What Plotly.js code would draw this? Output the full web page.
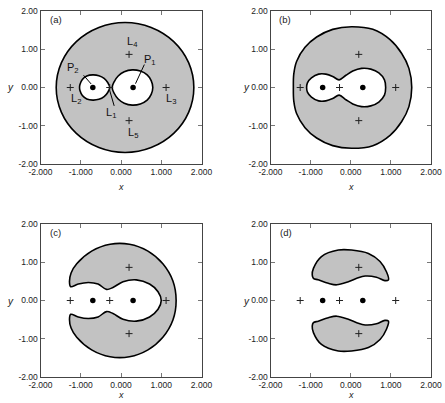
<!DOCTYPE html>
<html><head><meta charset="utf-8">
<script src="https://cdn.plot.ly/plotly-3.0.1.min.js"></script>
<style>html,body{margin:0;padding:0;background:#fff}#chart{width:445px;height:403px}</style>
</head><body><div id="chart"></div>
<script>
// Primaries P1, P2 and Lagrange points L1..L5
const primaryX = [0.3, -0.7];
const primaryY = [0, 0];
const lagrangeX = [-0.28, -1.26, 1.12, 0.2, 0.2];
const lagrangeY = [0, 0, 0, 0.866, -0.866];

// Axis ticks
const tickVals = [-2, -1, 0, 1, 2];
const xTickText = ['-2.000', '-1.000', '0.000', '1.000', '2.000'];
const yTickText = ['-2.00', '-1.00', '0.00', '1.00', '2.00'];

// (a) forbidden region outer boundary and two allowed ovals
const aOuterX = [1.81, 1.68, 1.31, 0.75, 0.10, -0.55, -1.11, -1.48, -1.61, -1.48, -1.11, -0.55, 0.10, 0.75, 1.31, 1.68, 1.81];
const aOuterY = [0, 0.65, 1.20, 1.57, 1.70, 1.57, 1.20, 0.65, 0, -0.65, -1.20, -1.57, -1.70, -1.57, -1.20, -0.65, 0];
const aP2X = [-0.28, -0.33, -0.42, -0.55, -0.70, -0.85, -0.96, -1.02, -1.03, -1.02, -0.96, -0.85, -0.70, -0.55, -0.42, -0.33, -0.28];
const aP2Y = [0, 0.13, 0.24, 0.31, 0.33, 0.30, 0.21, 0.08, 0, -0.08, -0.21, -0.30, -0.33, -0.31, -0.24, -0.13, 0];
const aP1X = [-0.22, -0.17, -0.07, 0.08, 0.28, 0.48, 0.65, 0.75, 0.79, 0.75, 0.65, 0.48, 0.28, 0.08, -0.07, -0.17, -0.22];
const aP1Y = [0, 0.15, 0.30, 0.41, 0.46, 0.43, 0.33, 0.18, 0, -0.18, -0.33, -0.43, -0.46, -0.41, -0.30, -0.15, 0];

// (b) outer boundary and peanut-shaped allowed region
const bOuterX = [1.52, 1.45, 1.27, 0.98, 0.55, 0.02, -0.45, -0.85, -1.14, -1.35, -1.42, -1.43, -1.42, -1.35, -1.14, -0.85, -0.45, 0.02, 0.55, 0.98, 1.27, 1.45, 1.52];
const bOuterY = [0, 0.50, 0.89, 1.25, 1.52, 1.59, 1.52, 1.32, 1.05, 0.68, 0.35, 0, -0.35, -0.68, -1.05, -1.32, -1.52, -1.59, -1.52, -1.25, -0.89, -0.50, 0];
const bInnerX = [0.87, 0.84, 0.70, 0.50, 0.27, 0.05, -0.12, -0.29, -0.45, -0.62, -0.80, -0.98, -1.08, -1.10, -1.08, -0.98, -0.80, -0.62, -0.45, -0.29, -0.12, 0.05, 0.27, 0.50, 0.70, 0.84, 0.87];
const bInnerY = [0, 0.20, 0.38, 0.48, 0.50, 0.43, 0.32, 0.20, 0.29, 0.35, 0.35, 0.25, 0.12, 0, -0.12, -0.25, -0.35, -0.35, -0.29, -0.20, -0.32, -0.43, -0.50, -0.48, -0.38, -0.20, 0];

// (c) horseshoe-shaped forbidden region
const cX = [-1.25, -1.28, -1.24, -1.10, -0.73, -0.27, 0.21, 0.67, 1.04, 1.29, 1.37, 1.29, 1.04, 0.67, 0.21, -0.27, -0.73, -1.10, -1.24, -1.28, -1.25,
            -1.06, -0.81, -0.57, -0.36, -0.20, 0.05, 0.38, 0.71, 0.92, 1.00, 0.92, 0.71, 0.38, 0.05, -0.20, -0.36, -0.57, -0.81, -1.06, -1.25];
const cY = [0.36, 0.50, 0.72, 0.96, 1.29, 1.47, 1.47, 1.29, 0.96, 0.51, 0, -0.51, -0.96, -1.29, -1.47, -1.47, -1.29, -0.96, -0.72, -0.50, -0.36,
            -0.43, -0.47, -0.43, -0.29, -0.34, -0.49, -0.54, -0.43, -0.23, 0, 0.23, 0.43, 0.54, 0.49, 0.34, 0.29, 0.43, 0.47, 0.43, 0.36];

// (d) two crescent-shaped forbidden regions around L4 and L5
const dUpperX = [-0.96, -0.93, -0.73, -0.31, 0.02, 0.44, 0.73, 0.89, 0.94, 0.85, 0.64, 0.36, 0.15, -0.06, -0.35, -0.56, -0.81, -0.93, -0.96];
const dUpperY = [0.67, 0.84, 1.15, 1.32, 1.32, 1.23, 1.02, 0.75, 0.54, 0.52, 0.61, 0.64, 0.58, 0.49, 0.41, 0.45, 0.54, 0.58, 0.67];
const dLowerX = [-0.96, -0.93, -0.73, -0.31, 0.02, 0.44, 0.73, 0.89, 0.94, 0.85, 0.64, 0.36, 0.15, -0.06, -0.35, -0.56, -0.81, -0.93, -0.96];
const dLowerY = [-0.67, -0.84, -1.15, -1.32, -1.32, -1.23, -1.02, -0.75, -0.54, -0.52, -0.61, -0.64, -0.58, -0.49, -0.41, -0.45, -0.54, -0.58, -0.67];

const panelNames = ['(a)', '(b)', '(c)', '(d)'];

const GRAY = '#c2c2c2';
const axesIds = [['x', 'y'], ['x2', 'y2'], ['x3', 'y3'], ['x4', 'y4']];

function region(xs, ys, p, fill) {
  return {type: 'scatter', mode: 'lines', x: xs, y: ys, xaxis: axesIds[p][0], yaxis: axesIds[p][1],
    fill: 'toself', fillcolor: fill, line: {color: '#000', width: 1.6, shape: 'spline', smoothing: 1},
    hoverinfo: 'skip', showlegend: false};
}
function points(p) {
  return [
    {type: 'scatter', mode: 'markers', x: lagrangeX, y: lagrangeY, xaxis: axesIds[p][0], yaxis: axesIds[p][1],
      marker: {symbol: 'cross-thin', size: 5, line: {width: 1, color: '#222'}}, hoverinfo: 'skip', showlegend: false},
    {type: 'scatter', mode: 'markers', x: primaryX, y: primaryY, xaxis: axesIds[p][0], yaxis: axesIds[p][1],
      marker: {symbol: 'circle', size: 5.5, color: '#000'}, hoverinfo: 'skip', showlegend: false}
  ];
}

const traces = [
  region(aOuterX, aOuterY, 0, GRAY), region(aP2X, aP2Y, 0, '#fff'), region(aP1X, aP1Y, 0, '#fff'), ...points(0),
  region(bOuterX, bOuterY, 1, GRAY), region(bInnerX, bInnerY, 1, '#fff'), ...points(1),
  region(cX, cY, 2, GRAY), ...points(2),
  region(dUpperX, dUpperY, 3, GRAY), region(dLowerX, dLowerY, 3, GRAY), ...points(3)
];

const W = 445, H = 403;
const colX = [[40.5 / W, 201.5 / W], [270.5 / W, 431 / W]];
const rowY = [[1 - 164 / H, 1 - 11 / H], [1 - 377 / H, 1 - 224 / H]];
const tickFont = {family: 'Liberation Sans, Arial, sans-serif', size: 8.5, color: '#222'};

function xAx(col, anchor) {
  return {domain: colX[col], anchor: anchor, range: [-2, 2], tickvals: tickVals, ticktext: xTickText,
    ticks: 'inside', ticklen: 4, tickcolor: '#777', tickwidth: 1, showline: true, linecolor: '#444', linewidth: 1,
    mirror: 'ticks', showgrid: false, zeroline: false, tickfont: tickFont, fixedrange: true};
}
function yAx(row, anchor) {
  return {domain: rowY[row], anchor: anchor, range: [-2, 2], tickvals: tickVals, ticktext: yTickText,
    ticks: 'inside', ticklen: 4, tickcolor: '#777', tickwidth: 1, showline: true, linecolor: '#444', linewidth: 1,
    mirror: 'ticks', showgrid: false, zeroline: false, tickfont: tickFont, fixedrange: true};
}

const labelFont = {family: 'Liberation Sans, Arial, sans-serif', size: 11, color: '#111'};
const annotations = [];
// panel letters
const letterPos = [[48, 19], [277, 19], [48, 232], [278, 232]];
panelNames.forEach((t, i) => annotations.push({xref: 'paper', yref: 'paper', x: letterPos[i][0] / W, y: 1 - letterPos[i][1] / H,
  xanchor: 'left', yanchor: 'middle', text: t, showarrow: false, font: {family: 'Liberation Sans, Arial, sans-serif', size: 9.5, color: '#222'}}));
// axis titles
const yTitlePos = [[10, 87.5], [246, 87.5], [10, 301], [246, 301]];
const xTitlePos = [[121, 187], [351, 187], [121, 395], [351, 395]];
for (let i = 0; i < 4; i++) {
  annotations.push({xref: 'paper', yref: 'paper', x: yTitlePos[i][0] / W, y: 1 - yTitlePos[i][1] / H, xanchor: 'center', yanchor: 'middle',
    text: '<i>y</i>', showarrow: false, font: {family: 'Liberation Sans, Arial, sans-serif', size: 10, color: '#222'}});
  annotations.push({xref: 'paper', yref: 'paper', x: xTitlePos[i][0] / W, y: 1 - xTitlePos[i][1] / H, xanchor: 'center', yanchor: 'middle',
    text: '<i>x</i>', showarrow: false, font: {family: 'Liberation Sans, Arial, sans-serif', size: 9, color: '#222'}});
}
// labels in panel (a)
const ptLabels = [
  ['P<sub>1</sub>', 0.72, 0.72], ['P<sub>2</sub>', -1.20, 0.50], ['L<sub>1</sub>', -0.25, -0.66],
  ['L<sub>2</sub>', -1.13, -0.31], ['L<sub>3</sub>', 1.24, -0.31], ['L<sub>4</sub>', 0.28, 1.20], ['L<sub>5</sub>', 0.30, -1.20]
];
ptLabels.forEach(l => annotations.push({xref: 'x', yref: 'y', x: l[1], y: l[2], text: l[0], showarrow: false,
  xanchor: 'center', yanchor: 'middle', font: labelFont}));

const leader = {type: 'line', xref: 'x', yref: 'y', line: {color: '#000', width: 1}};
const shapes = [
  Object.assign({x0: 0.36, y0: 0.10, x1: 0.58, y1: 0.60}, leader),
  Object.assign({x0: -0.93, y0: 0.32, x1: -0.74, y1: 0.09}, leader),
  Object.assign({x0: -0.28, y0: -0.08, x1: -0.17, y1: -0.48}, leader)
];

const layout = {
  width: W, height: H, margin: {l: 0, r: 0, t: 0, b: 0}, paper_bgcolor: '#fff', plot_bgcolor: '#fff', showlegend: false,
  xaxis: xAx(0, 'y'), yaxis: yAx(0, 'x'),
  xaxis2: xAx(1, 'y2'), yaxis2: yAx(0, 'x2'),
  xaxis3: xAx(0, 'y3'), yaxis3: yAx(1, 'x3'),
  xaxis4: xAx(1, 'y4'), yaxis4: yAx(1, 'x4'),
  annotations: annotations, shapes: shapes
};
Plotly.newPlot('chart', traces, layout, {displayModeBar: false, staticPlot: true});
</script></body></html>
